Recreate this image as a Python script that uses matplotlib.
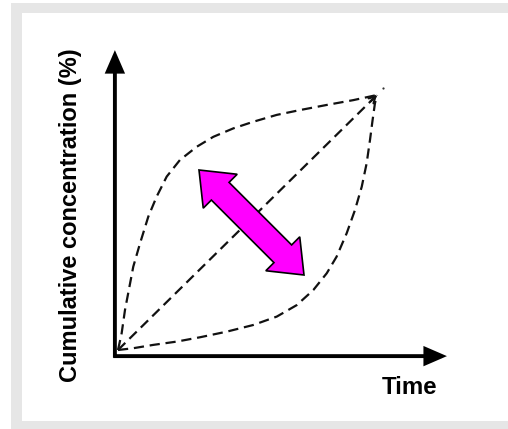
import numpy as np
import matplotlib
matplotlib.use("Agg")
import matplotlib.pyplot as plt
from matplotlib.patches import Rectangle, Polygon, FancyArrowPatch
from matplotlib.transforms import Affine2D

plt.rcParams['font.family'] = ['Liberation Sans', 'DejaVu Sans']

# Release profiles (time %, cumulative concentration %)
upper_t = [0, 1.4, 2.7, 5.9, 8.5, 11.7, 14.9, 18.8, 23.9, 30.4, 36.8, 44.5,
           52.2, 61.3, 70.3, 80.6, 90.9, 100]
upper_c = [0, 6.5, 15.7, 32.7, 41.8, 52.3, 60.1, 68.0, 74.5, 79.7, 83.6, 86.9,
           89.5, 92.2, 94.1, 96.1, 98.0, 100]

lower_t = [0, 5.9, 13.6, 22.7, 31.7, 42.0, 52.2, 61.3, 69.0, 75.4, 80.6, 84.4,
           88.3, 91.5, 94.1, 96.0, 97.3, 98.3, 99.2, 100]
lower_c = [0, 0.7, 2.0, 3.3, 5.0, 7.2, 9.8, 13.1, 17.6, 23.5, 30.1, 36.6,
           45.8, 54.9, 64.0, 73.2, 82.4, 90.2, 96.7, 100]

linear_t = [0, 100]
linear_c = [0, 100]

x_label = "Time"
y_label = "Cumulative concentration (%)"

W, H = 508, 429
fig = plt.figure(figsize=(W / 100, H / 100), dpi=100)
fig.patch.set_facecolor("white")

# pixel coordinates measured from the top-left corner of the figure
px = Affine2D().scale(1 / W, -1 / H).translate(0, 1) + fig.transFigure

# grey frame around the drawing panel
fig.patches.append(Rectangle((11, 3), W, H, transform=px, facecolor="#e6e6e6",
                             edgecolor="none", zorder=-3))
fig.patches.append(Rectangle((22, 13), W, 408, transform=px, facecolor="white",
                             edgecolor="none", zorder=-2))

ax = fig.add_axes([0, 0, 1, 1])
ax.set_zorder(1)
ax.patch.set_visible(False)
ax.set_axis_off()
# origin of the profiles at pixel (118, 350); 2.59 px per unit in x, 2.55 in y
ax.set_xlim(-118 / 2.59, (W - 118) / 2.59)
ax.set_ylim((350 - H) / 2.55, 350 / 2.55)

dash = dict(color="#111111", lw=1.6, dashes=(4.6, 2.6), solid_capstyle="butt",
            dash_capstyle="butt")
ax.plot(upper_t, upper_c, **dash)
ax.plot(lower_t, lower_c, **dash)
ax.plot(linear_t, linear_c, **dash)

# small head at the end of the linear profile
ax.annotate("", xy=(linear_t[-1], linear_c[-1]),
            xytext=(linear_t[-1] - 2.5, linear_c[-1] - 2.5),
            arrowprops=dict(arrowstyle="->,head_length=0.45,head_width=0.25",
                            lw=1.5, color="#111111", mutation_scale=10,
                            shrinkA=0, shrinkB=0))
ax.plot([102.3], [102.7], marker="o", ms=1.6, color="#333333", mew=0)

# coordinate axes with arrow heads
ax_x0, ax_y0 = -1.2, -2.4
for start, end in [((ax_x0 - 0.6, ax_y0), (127, ax_y0)),
                   ((ax_x0, ax_y0 - 0.6), (ax_x0, 117.6))]:
    ax.add_patch(FancyArrowPatch(start, end,
                                 arrowstyle="-|>,head_length=0.6,head_width=0.26",
                                 mutation_scale=20, lw=2.8, color="black",
                                 shrinkA=0, shrinkB=0, joinstyle="miter",
                                 capstyle="butt"))

# magenta double-headed arrow
A = np.array([199.0, 170.0])
B = np.array([304.0, 275.0])
u = (B - A) / np.linalg.norm(B - A)
n = np.array([-u[1], u[0]])
L, hw, sw = 30.0, 24.0, 12.5
pts = [A,
       A + L * u + hw * n, A + L * u + sw * n,
       B - L * u + sw * n, B - L * u + hw * n,
       B,
       B - L * u - hw * n, B - L * u - sw * n,
       A + L * u - sw * n, A + L * u - hw * n]
fig.patches.append(Polygon(pts, closed=True, transform=px, facecolor="#ff00ff",
                           edgecolor="black", lw=1.2, joinstyle="miter", zorder=5))

fig.text(71, 215, y_label, transform=px, rotation=90, ha="center", va="center",
         fontsize=17, fontweight="bold")
fig.text(410, 387, x_label, transform=px, ha="center", va="center",
         fontsize=17.3, fontweight="bold")

fig.savefig("out.png", dpi=100)
